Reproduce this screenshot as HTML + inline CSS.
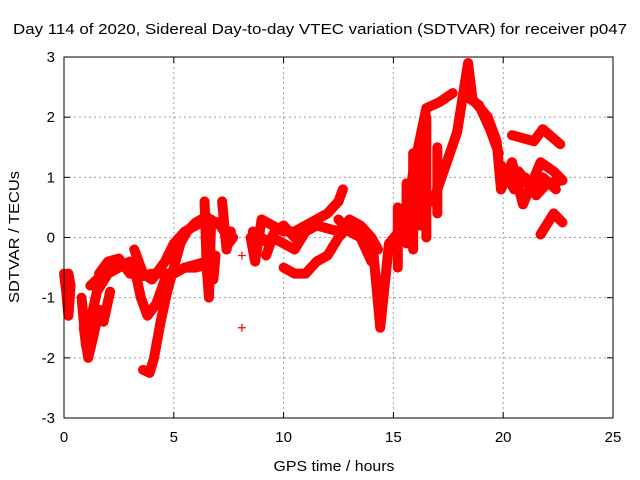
<!DOCTYPE html>
<html><head><meta charset="utf-8"><style>
body{margin:0;background:#fff}
svg{display:block;font-family:"Liberation Sans",sans-serif}
</style></head><body>
<svg id="chart" width="640" height="480" viewBox="0 0 640 480">
<text x="13" y="34" font-size="15" textLength="614" lengthAdjust="spacingAndGlyphs">Day 114 of 2020, Sidereal Day-to-day VTEC variation (SDTVAR) for receiver p047</text>
<text x="334" y="471" font-size="15" text-anchor="middle" textLength="121" lengthAdjust="spacingAndGlyphs">GPS time / hours</text>
<text transform="translate(19,237) rotate(-90)" font-size="15" text-anchor="middle" textLength="132" lengthAdjust="spacingAndGlyphs">SDTVAR / TECUs</text>
<g id="grid"></g>
<g id="ticks"></g>
<g id="data"></g>
<rect x="64" y="57" width="549" height="361" fill="none" stroke="#000" stroke-width="1"/>
</svg>
<script>
const xTicks=[0,5,10,15,20,25];
const yTicks=[-3,-2,-1,0,1,2,3];
const tracks=[
[[0,-0.6],[0.1,-0.9],[0.2,-1.3],[0.3,-0.8],[0.2,-0.6]],
[[0.8,-1.0],[1.0,-1.8],[1.2,-1.4],[1.5,-0.9],[2.0,-0.6],[2.5,-0.5],[3.0,-0.4]],
[[0.9,-1.5],[1.1,-2.0],[1.3,-1.7],[1.6,-1.2],[1.8,-1.4],[2.1,-0.9]],
[[1.2,-0.8],[1.5,-0.7],[2.0,-0.5],[2.4,-0.4],[2.8,-0.45]],
[[1.6,-0.6],[2.0,-0.4],[2.5,-0.35],[3.0,-0.6],[3.5,-0.65],[4.0,-0.6],[4.5,-0.6],[5,-0.6],[5.5,-0.5],[6,-0.5],[6.5,-0.45]],
[[3.2,-0.5],[3.5,-1.0],[3.8,-1.3],[4.2,-1.1],[4.6,-0.7],[5.0,-0.6],[5.5,-0.5],[6.0,-0.45],[6.5,-0.4],[6.8,-0.3]],
[[3.2,-0.2],[3.6,-0.6],[4.0,-0.7],[4.6,-0.4],[5.0,-0.1],[5.5,0.1],[6.0,0.2],[6.5,0.3],[7,0.25],[7.5,0.0]],
[[3.6,-2.2],[3.9,-2.25],[4.1,-2.0],[4.4,-1.4],[4.7,-0.9],[5.0,-0.5],[5.3,-0.1],[5.6,0.1],[6.0,0.25],[6.5,0.35]],
[[6.4,0.6],[6.5,-0.5],[6.6,-1.0],[6.7,0.3]],
[[6.6,-0.2],[6.8,-0.7],[6.9,-0.3]],
[[7.2,0.6],[7.4,-0.2],[7.6,0.1]],
[[7.3,0.1],[7.5,-0.1],[7.7,0.0]],
[[8.5,0.0],[8.7,-0.4],[9,0.3],[9.5,0.2],[10,0.1],[10.5,0.1],[11,0.2],[11.5,0.3],[12,0.4],[12.5,0.6],[12.7,0.8]],
[[8.6,0.1],[9.0,0.0],[9.3,-0.1],[9.6,0.1],[10,0.2],[10.5,0.0],[11,0.1]],
[[9.2,-0.3],[9.5,0.0],[10,-0.1],[10.5,-0.2],[11,0.1],[11.5,0.2],[12,0.15],[12.5,0.1],[13,0.3],[13.5,0.2],[14,0.0],[14.3,-0.2]],
[[10,-0.5],[10.5,-0.6],[11,-0.6],[11.5,-0.4],[12,-0.3],[12.5,0],[13,0.2],[13.5,0.1],[14,-0.2],[14.1,-0.3],[14.4,-1.5],[14.8,-0.1],[15.6,0.25],[15.9,1.1],[16.5,2.15],[17.1,2.25],[17.7,2.4]],
[[12.5,0.3],[13.0,0.1],[13.5,0.0],[14.0,-0.4]],
[[15.2,-0.5],[15.2,0.5]],[[15.9,-0.2],[15.9,1.4]],[[16.5,0.0],[16.5,2.0]],[[17.0,0.4],[17.0,1.5]],
[[15.6,-0.1],[15.6,0.9]],[[16.2,0.2],[16.2,1.6]],
[[16.8,0.6],[17.1,0.9],[17.9,1.75],[18.4,2.9],[18.6,2.3],[19.3,2.0],[19.7,1.6],[19.9,0.8]],
[[18.5,2.3],[18.9,2.2],[19.4,1.8],[19.8,1.4]],
[[20.4,1.7],[21.4,1.6],[21.8,1.8],[22.6,1.55]],
[[19.9,0.8],[20.4,1.25],[20.9,0.55],[21.7,1.25],[22.3,1.1],[22.7,0.95]],
[[19.9,1.2],[20.5,0.8],[21.0,1.0],[21.5,0.7],[22.0,0.9],[22.7,0.95]],
[[20.2,1.0],[20.7,1.1],[21.2,0.85],[21.8,1.0],[22.4,0.8]],
[[21.7,0.05],[22.3,0.4],[22.7,0.25]],
[[8.1,-1.5]],[[8.1,-0.3]]
];
const X=h=>64+h*549/25, Y=v=>237.5-v*60.17;
const ns="http://www.w3.org/2000/svg";
const grid=document.getElementById('grid'),ticks=document.getElementById('ticks'),data=document.getElementById('data');
function mk(tag,attrs,parent){const e=document.createElementNS(ns,tag);for(const k in attrs)e.setAttribute(k,attrs[k]);parent.appendChild(e);return e;}
xTicks.forEach(t=>{const x=X(t);
 if(t>0&&t<25){const g=mk('line',{x1:x,x2:x,y1:57,y2:418,stroke:'#a0a0a0','stroke-dasharray':'2,3'},grid);}
 mk('line',{x1:x,x2:x,y1:418,y2:412,stroke:'#000'},ticks);mk('line',{x1:x,x2:x,y1:57,y2:63,stroke:'#000'},ticks);
 const l=mk('text',{x:x,y:442,'font-size':15,'text-anchor':'middle'},ticks);l.textContent=t;
 });
yTicks.forEach(t=>{const y=Y(t);
 if(t>-3&&t<3){const g=mk('line',{x1:64,x2:613,y1:y,y2:y,stroke:'#a0a0a0','stroke-dasharray':'2,3'},grid);}
 mk('line',{x1:64,x2:70,y1:y,y2:y,stroke:'#000'},ticks);mk('line',{x1:613,x2:607,y1:y,y2:y,stroke:'#000'},ticks);
 const l=mk('text',{x:55,y:y+5,'font-size':15,'text-anchor':'end'},ticks);l.textContent=t;
 });
tracks.forEach(tr=>{
 const pts=tr.map(p=>X(p[0])+','+Y(p[1])).join(' ');
 if(tr.length>1){const pl=mk('polyline',{points:pts,fill:'none',stroke:'#f00','stroke-width':10,'stroke-linejoin':'round','stroke-linecap':'round'},data);
 }
 tr.forEach(p=>{const x=X(p[0]),y=Y(p[1]);
  const m=mk('path',{d:`M${x-4},${y}h8M${x},${y-4}v8`,stroke:'#f00','stroke-width':1.2},data);
  });
});
</script>
</body></html>
